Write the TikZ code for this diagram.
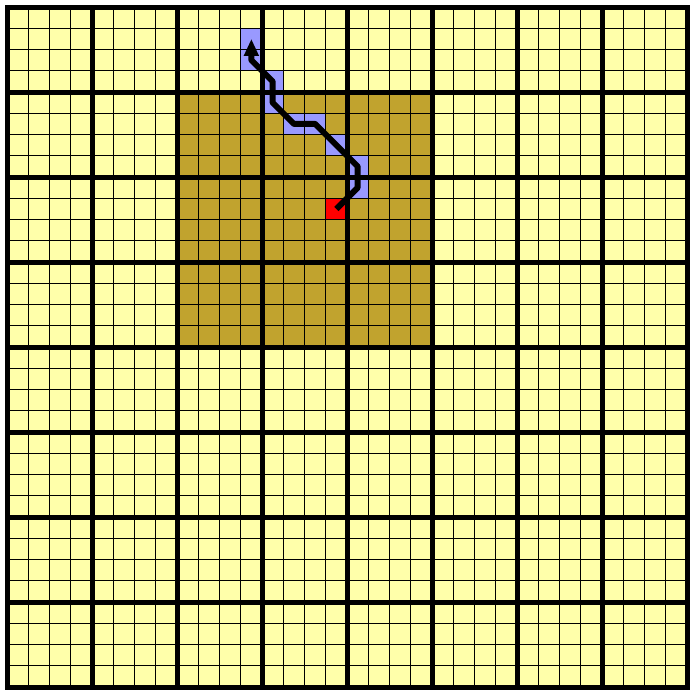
\documentclass[tikz,border=0pt]{standalone}
\usetikzlibrary{arrows.meta}
\definecolor{lightyel}{RGB}{255,255,170}
\definecolor{darkgold}{RGB}{193,163,46}
\definecolor{pathblue}{RGB}{153,153,255}
\definecolor{startred}{RGB}{255,0,0}
\tikzset{
  fineline/.style={line width=1pt, black},
  thickline/.style={line width=5pt, black},
  walk/.style={line width=6pt, black, line join=round, -{Triangle[length=17pt,width=14pt]}},
}
\begin{document}
\begin{tikzpicture}[x=1pt,y=1pt]
\useasboundingbox (0,0) rectangle (690,-691);
\begin{scope}[shift={(7,-7)}, x=21.25pt, y=-21.25pt]
  \fill[lightyel] (0,0) rectangle (32,32);
  \fill[darkgold] (8,4) rectangle (20,16);
  % visited cells
  \fill[pathblue] (11,1) rectangle (12,3);
  \fill[pathblue] (12,3) rectangle (13,5);
  \fill[pathblue] (13,5) rectangle (15,6);
  \fill[pathblue] (15,6) rectangle (16,7);
  \fill[pathblue] (16,7) rectangle (17,9);
  \fill[startred] (15,9) rectangle (16,10);
  % grids
  \foreach \i in {0,...,32} {
    \draw[fineline] (\i,0) -- (\i,32);
    \draw[fineline] (0,\i) -- (32,\i);
  }
  \foreach \i in {0,4,...,32} {
    \draw[thickline] (\i,0) -- (\i,32);
    \draw[thickline] (0,\i) -- (32,\i);
  }
  \draw[thickline, line join=miter] (0,0) rectangle (32,32);
  % path
  \coordinate (s) at (15.5,9.5);
  \coordinate (e) at (11.5,1.5);
  \draw[walk] (s) -- (16.5,8.5) -- (16.5,7.5) -- (14.5,5.5) -- (13.5,5.5)
     -- (12.5,4.5) -- (12.5,3.5) -- (11.5,2.5) -- (e);
\end{scope}
\end{tikzpicture}
\end{document}
